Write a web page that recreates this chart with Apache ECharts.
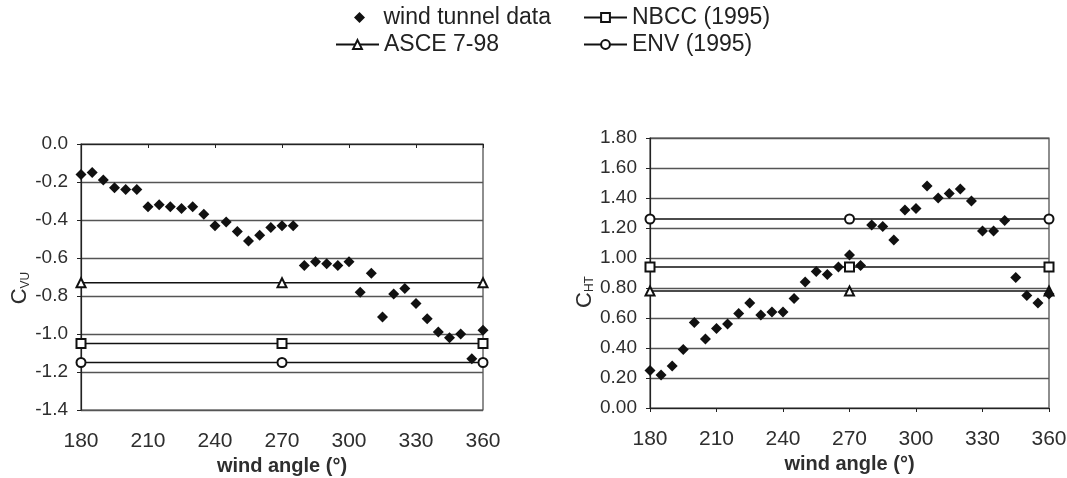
<!DOCTYPE html>
<html>
<head>
<meta charset="utf-8">
<script src="https://cdn.jsdelivr.net/npm/echarts@6/dist/echarts.min.js"></script>
<style>
  html, body { margin: 0; padding: 0; background: #fff; }
  #chart { width: 1067px; height: 478px; }
</style>
</head>
<body>
<div id="chart"></div>
<script>
// Wind angles (degrees) at which the wind tunnel coefficients were measured
const angles = [180, 185, 190, 195, 200, 205, 210, 215, 220, 225, 230, 235, 240,
                245, 250, 255, 260, 265, 270, 275, 280, 285, 290, 295, 300, 305,
                310, 315, 320, 325, 330, 335, 340, 345, 350, 355, 360];

// Vertical uplift coefficient C_VU, wind tunnel data
const cvuTunnel = [-0.16, -0.15, -0.19, -0.23, -0.24, -0.24, -0.33, -0.32, -0.33, -0.34,
                   -0.33, -0.37, -0.43, -0.41, -0.46, -0.51, -0.48, -0.44, -0.43, -0.43,
                   -0.64, -0.62, -0.63, -0.64, -0.62, -0.78, -0.68, -0.91, -0.79, -0.76,
                   -0.84, -0.92, -0.99, -1.02, -1.00, -1.13, -0.98];

// Horizontal thrust coefficient C_HT, wind tunnel data
const chtTunnel = [0.25, 0.22, 0.28, 0.39, 0.57, 0.46, 0.53, 0.56, 0.63, 0.70,
                   0.62, 0.64, 0.64, 0.73, 0.84, 0.91, 0.89, 0.94, 1.02, 0.95,
                   1.22, 1.21, 1.12, 1.32, 1.33, 1.48, 1.40, 1.43, 1.46, 1.38,
                   1.18, 1.18, 1.25, 0.87, 0.75, 0.70, 0.76];

// Code values (constant over wind angle), marked at 180, 270 and 360 degrees
const codeAngles = [180, 270, 360];
const cvuCodes = { 'ASCE 7-98': -0.73, 'NBCC (1995)': -1.05, 'ENV (1995)': -1.15 };
const chtCodes = { 'ASCE 7-98': 0.78, 'NBCC (1995)': 0.94, 'ENV (1995)': 1.26 };

const codeSymbols = { 'ASCE 7-98': 'emptyTriangle', 'NBCC (1995)': 'emptyRect', 'ENV (1995)': 'emptyCircle' };
const TUNNEL = 'wind tunnel data';

const FONT = '"Liberation Sans", Arial, Helvetica, sans-serif';
const INK = '#111';
const TEXT = '#2e2e2e';

function tunnelSeries(values, idx) {
  return {
    name: TUNNEL, type: 'scatter', xAxisIndex: idx, yAxisIndex: idx,
    data: angles.map((a, i) => [a, values[i]]),
    symbol: 'diamond', symbolSize: 11, clip: false,
    itemStyle: { color: INK, opacity: 1 }, z: 5
  };
}

function codeSeries(name, value, idx) {
  return {
    name: name, type: 'line', xAxisIndex: idx, yAxisIndex: idx,
    data: codeAngles.map(a => [a, value]),
    symbol: codeSymbols[name], symbolSize: 9, showAllSymbol: true, clip: false,
    lineStyle: { color: INK, width: 1.6 },
    itemStyle: { color: INK, borderWidth: 1.2 },
    z: 4
  };
}

function xAxisFor(idx) {
  return {
    type: 'value', gridIndex: idx, min: 180, max: 360, interval: 30,
    name: 'wind angle (°)', nameLocation: 'middle', nameGap: 46,
    nameTextStyle: { fontFamily: FONT, fontSize: 20, fontWeight: 'bold', color: TEXT },
    axisLine: { show: true, lineStyle: { color: '#222', width: 1.2 } },
    axisTick: { show: true, inside: false, length: 4, lineStyle: { color: '#222' } },
    axisLabel: { fontFamily: FONT, fontSize: 21, color: TEXT, margin: 21 },
    splitLine: { show: false }
  };
}

function yAxisFor(idx, min, max, digits, sub, gap, shift) {
  return {
    type: 'value', gridIndex: idx, min: min, max: max, interval: 0.2,
    name: '{c|C}{s|' + sub + '}', nameLocation: 'middle', nameRotate: 90, nameGap: gap,
    nameTextStyle: {
      padding: [0, shift, 0, 0],
      rich: {
        c: { fontFamily: FONT, fontSize: 22, color: TEXT },
        s: { fontFamily: FONT, fontSize: 12, color: TEXT, verticalAlign: 'bottom' }
      }
    },
    axisLine: { show: true, lineStyle: { color: '#222', width: 1.2 } },
    axisTick: { show: true, inside: false, length: 4, lineStyle: { color: '#222' } },
    axisLabel: {
      fontFamily: FONT, fontSize: 19, color: TEXT, margin: 13,
      formatter: v => v.toFixed(digits)
    },
    splitLine: { show: true, lineStyle: { color: '#555', width: 1.3 } }
  };
}

function legendAt(name, left, top, iconWidth, iconHeight, icon) {
  const item = icon ? { name: name, icon: icon } : { name: name };
  return {
    data: [item], left: left, top: top, padding: 0,
    itemWidth: iconWidth, itemHeight: iconHeight, itemGap: 0,
    textStyle: { fontFamily: FONT, fontSize: 23, color: '#222' },
    selectedMode: false
  };
}

const codeNames = Object.keys(codeSymbols);

const option = {
  animation: false,
  backgroundColor: '#fff',
  legend: [
    legendAt(TUNNEL, 354, 6, 38, 11, 'path://M0,-1L1,0L0,1L-1,0Z'),
    legendAt('NBCC (1995)', 583, 6, 43, 11),
    legendAt('ASCE 7-98', 335, 33, 43, 11),
    legendAt('ENV (1995)', 583, 33, 43, 11)
  ],
  grid: [
    { left: 81, top: 144, width: 402, height: 266, outerBoundsMode: 'none', containLabel: false,
      show: true, borderColor: '#444', borderWidth: 1.2 },
    { left: 650, top: 138, width: 399, height: 270, outerBoundsMode: 'none', containLabel: false,
      show: true, borderColor: '#444', borderWidth: 1.2 }
  ],
  xAxis: [xAxisFor(0), xAxisFor(1)],
  yAxis: [
    yAxisFor(0, -1.4, 0, 1, 'VU', 46, 22),
    yAxisFor(1, 0, 1.8, 2, 'HT', 46, 38)
  ],
  series: [
    tunnelSeries(cvuTunnel, 0),
    ...codeNames.map(n => codeSeries(n, cvuCodes[n], 0)),
    tunnelSeries(chtTunnel, 1),
    ...codeNames.map(n => codeSeries(n, chtCodes[n], 1))
  ]
};

const chart = echarts.init(document.getElementById('chart'), null, { renderer: 'canvas' });
chart.setOption(option);
</script>
</body>
</html>
